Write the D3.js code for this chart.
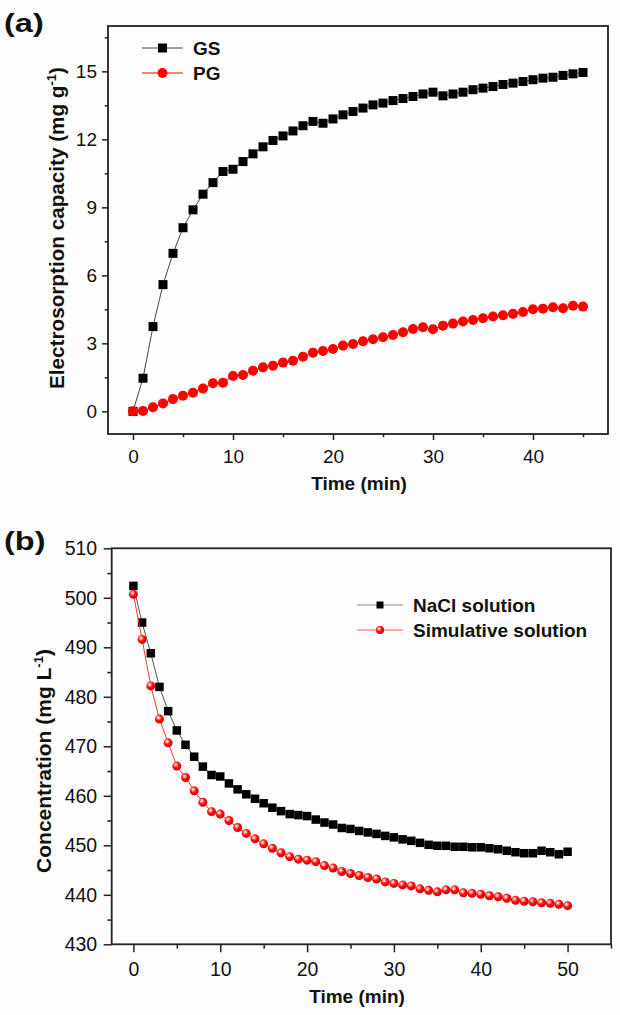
<!DOCTYPE html>
<html><head><meta charset="utf-8">
<script src="https://cdn.jsdelivr.net/npm/d3@7"></script>
<style>
html,body{margin:0;padding:0;background:#fdfdfd;}
svg{display:block;}
text{font-family:"Liberation Sans",Arial,sans-serif;fill:#111;}
</style></head>
<body>
<svg id="chart" width="620" height="1015"></svg>
<script>
// ---------- Data ----------
const timeA = d3.range(0, 46);
const gsValues = [0,1.46,3.74,5.59,6.97,8.10,8.89,9.58,10.09,10.58,10.68,11.02,11.36,11.67,11.95,12.15,12.37,12.60,12.79,12.71,12.90,13.08,13.23,13.38,13.52,13.60,13.71,13.80,13.89,14.00,14.08,13.92,14.00,14.08,14.19,14.26,14.33,14.42,14.48,14.55,14.63,14.70,14.74,14.82,14.89,14.95];
const pgValues = [0,0.02,0.18,0.35,0.54,0.69,0.82,1.01,1.24,1.26,1.56,1.60,1.79,1.94,2.01,2.15,2.23,2.41,2.59,2.66,2.75,2.90,2.97,3.09,3.18,3.27,3.37,3.49,3.63,3.71,3.62,3.78,3.87,3.96,4.03,4.11,4.18,4.24,4.30,4.38,4.50,4.53,4.59,4.55,4.66,4.62];
const timeB = d3.range(0, 51);
const naclValues = [502.4,495.0,488.8,482.0,477.1,473.2,470.3,467.9,465.9,464.2,463.9,462.5,461.3,460.3,459.4,458.5,457.6,456.9,456.3,456.1,455.9,455.2,454.6,454.2,453.5,453.3,452.9,452.6,452.3,451.9,451.6,451.2,450.9,450.5,450.1,449.9,449.9,449.7,449.7,449.6,449.6,449.4,449.2,448.9,448.6,448.4,448.4,448.9,448.6,448.2,448.7];
const simValues = [500.7,491.6,482.2,475.5,470.7,466.0,463.7,461.0,458.7,456.8,456.3,455.0,453.6,452.4,451.3,450.3,449.4,448.5,447.7,447.2,447.0,446.7,445.9,445.4,444.7,444.3,443.9,443.5,443.2,442.6,442.3,442.0,441.8,441.2,440.9,440.6,441.0,441.0,440.4,440.3,440.1,439.8,439.6,439.3,438.9,438.7,438.6,438.4,438.3,438.1,437.8];
const xTicksA = [0,10,20,30,40];
const yTicksA = [0,3,6,9,12,15];
const xTicksB = [0,10,20,30,40,50];
const yTicksB = [430,440,450,460,470,480,490,500,510];
const legendA = ["GS","PG"];
const legendB = ["NaCl solution","Simulative solution"];

const svg = d3.select("#chart");
const defs = svg.append("defs");
const grad = defs.append("radialGradient").attr("id","sphere").attr("cx","0.38").attr("cy","0.35").attr("r","0.65");
grad.append("stop").attr("offset","0").attr("stop-color","#ffffff");
grad.append("stop").attr("offset","0.22").attr("stop-color","#ff9a9a");
grad.append("stop").attr("offset","0.5").attr("stop-color","#ff1010");
grad.append("stop").attr("offset","1").attr("stop-color","#d00000");

function panel(cfg){
  const x = d3.scaleLinear().domain(cfg.xDomain).range([cfg.left, cfg.right]);
  const y = d3.scaleLinear().domain(cfg.yDomain).range([cfg.bottom, cfg.top]);
  const g = svg.append("g");
  const xAxis = d3.axisBottom(x).tickValues(cfg.xTicks).tickSize(cfg.tick).tickPadding(cfg.xPad).tickFormat(d3.format("d"));
  const xMinor = d3.axisBottom(x).tickValues(cfg.xMinor).tickSize(cfg.tick*0.55).tickFormat("");
  const yAxis = d3.axisLeft(y).tickValues(cfg.yTicks).tickSize(cfg.tick).tickPadding(cfg.yPad).tickFormat(d3.format("d"));
  const yMinor = d3.axisLeft(y).tickValues(cfg.yMinor).tickSize(cfg.tick*0.55).tickFormat("");
  [[xAxis,"x"],[xMinor,"x"],[yAxis,"y"],[yMinor,"y"]].forEach(([ax,t])=>{
    const a = g.append("g").attr("transform", t==="x" ? `translate(0,${cfg.bottom})` : `translate(${cfg.left},0)`).call(ax);
    a.select(".domain").remove();
    a.selectAll(".tick line").attr("stroke","#222").attr("stroke-width",1.5);
    a.selectAll("text").attr("font-size",cfg.tickFont).attr("fill","#151515").attr("font-family","Liberation Sans, Arial, sans-serif");
  });
  g.append("rect").attr("x",cfg.left).attr("y",cfg.top).attr("width",cfg.right-cfg.left).attr("height",cfg.bottom-cfg.top)
    .attr("fill","none").attr("stroke","#222").attr("stroke-width",1.8);
  cfg.series.forEach(s=>{
    const line = d3.line().x((d,i)=>x(s.t[i])).y(d=>y(d));
    g.append("path").datum(s.v).attr("d",line).attr("fill","none").attr("stroke",s.lineColor).attr("stroke-width",1);
    const pts = g.append("g").selectAll("g").data(s.v).join("g").attr("transform",(d,i)=>`translate(${x(s.t[i])},${y(d)})`);
    drawMarker(pts, s.marker, s.size);
  });
  g.append("text").attr("x",cfg.xTitleX).attr("y",cfg.xTitleY).attr("text-anchor","middle")
    .attr("font-size",19).attr("font-weight","bold").text("Time (min)");
  const yt = g.append("text").attr("transform",`translate(${cfg.yTitleX},${cfg.yTitleY}) rotate(-90)`)
    .attr("text-anchor","middle").attr("font-size",cfg.yTitleFont).attr("font-weight","bold");
  yt.append("tspan").text(cfg.yTitle);
  yt.append("tspan").attr("font-size",13).attr("dy",-8).text("-1");
  yt.append("tspan").attr("dy",8).text(")");
  g.append("text").attr("transform",`translate(${cfg.letterX},${cfg.letterY}) scale(1.25,1)`).attr("font-size",26).attr("font-weight","bold")
    .attr("font-family","Open Sans, Liberation Sans, sans-serif").text(cfg.letter);
  cfg.legend.forEach((lab,i)=>{
    const s = cfg.series[i];
    const ly = cfg.legY + i*cfg.legGap;
    const lg = g.append("g");
    lg.append("line").attr("x1",cfg.legX).attr("x2",cfg.legX+cfg.legLen).attr("y1",ly).attr("y2",ly).attr("stroke",s.legLine).attr("stroke-width",1);
    const m = lg.append("g").attr("transform",`translate(${cfg.legX+cfg.legLen/2},${ly})`);
    drawMarker(m, s.marker, s.legSize);
    lg.append("text").attr("x",cfg.legX+cfg.legLen+10).attr("y",ly+7).attr("font-size",19).attr("font-weight","bold").text(lab);
  });
}

function drawMarker(sel, type, size){
  if(type==="square"){
    sel.append("rect").attr("x",-size/2).attr("y",-size/2).attr("width",size).attr("height",size).attr("fill","#000");
  } else if(type==="circle"){
    sel.append("circle").attr("r",size/2).attr("fill","#f00");
  } else {
    sel.append("circle").attr("r",size/2).attr("fill","url(#sphere)");
  }
}

panel({
  left:108, right:608, top:26, bottom:434,
  xDomain:[-2.5,47.5], yDomain:[-1,17],
  xTicks:xTicksA, xMinor:[5,15,25,35,45], yTicks:yTicksA, yMinor:[1.5,4.5,7.5,10.5,13.5,16.5],
  tick:6, xPad:10, yPad:5, tickFont:19,
  xTitleX:359, xTitleY:490, yTitleX:64, yTitleY:228, yTitleFont:20.7,
  yTitle:"Electrosorption capacity (mg g",
  letter:"(a)", letterX:4, letterY:32,
  legend:legendA, legX:142, legLen:41, legY:48, legGap:25,
  series:[
    {t:timeA, v:gsValues, marker:"square", size:9, legSize:9, lineColor:"#444", legLine:"#444"},
    {t:timeA, v:pgValues, marker:"circle", size:10, legSize:10, lineColor:"#f00", legLine:"#f00"}
  ]
});
panel({
  left:111.7, right:611, top:548.3, bottom:944.3,
  xDomain:[-2.5,55], yDomain:[430,510],
  xTicks:xTicksB, xMinor:[5,15,25,35,45,55], yTicks:yTicksB, yMinor:[435,445,455,465,475,485,495,505],
  tick:8, xPad:9.5, yPad:6.5, tickFont:19.5,
  xTitleX:357, xTitleY:1003, yTitleX:51, yTitleY:761, yTitleFont:21,
  yTitle:"Concentration (mg L",
  letter:"(b)", letterX:4, letterY:550,
  legend:legendB, legX:357, legLen:46, legY:605, legGap:25,
  series:[
    {t:timeB, v:naclValues, marker:"square", size:8.5, legSize:7, lineColor:"#555", legLine:"#888"},
    {t:timeB, v:simValues, marker:"sphere", size:9, legSize:8, lineColor:"#f33", legLine:"#f55"}
  ]
});
</script>
</body></html>
